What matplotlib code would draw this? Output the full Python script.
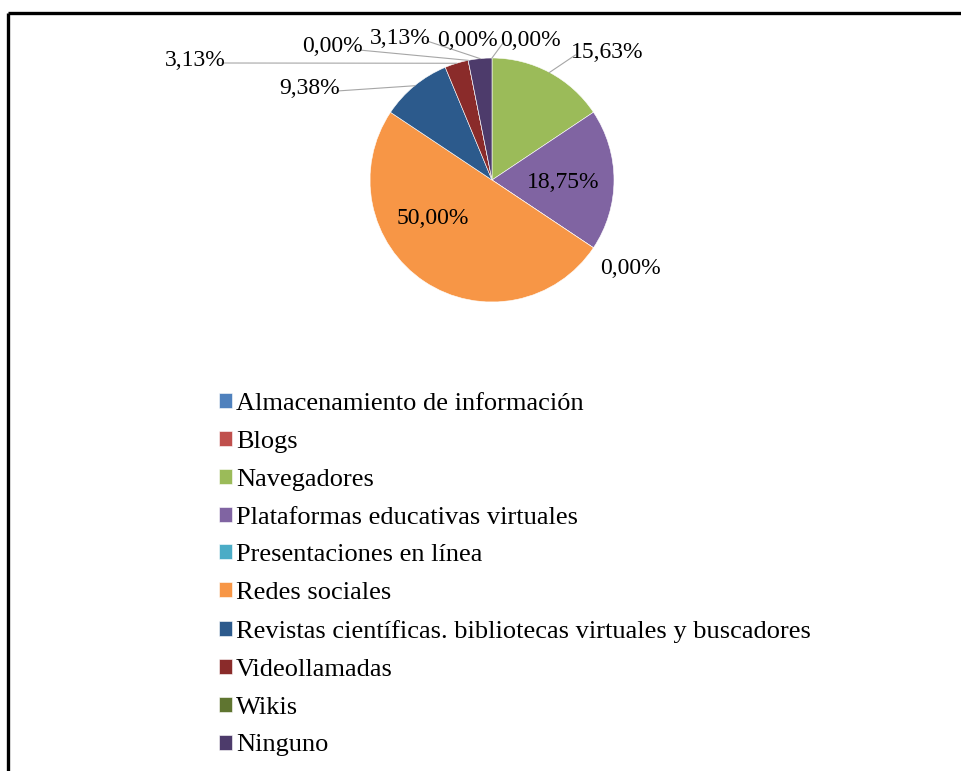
import numpy as np
import matplotlib.pyplot as plt

plt.rcParams['font.family'] = ['Liberation Serif', 'DejaVu Serif']

# data
categories = ['Almacenamiento de información', 'Blogs', 'Navegadores',
              'Plataformas educativas virtuales', 'Presentaciones en línea',
              'Redes sociales',
              'Revistas científicas. bibliotecas virtuales y buscadores',
              'Videollamadas', 'Wikis', 'Ninguno']
percent = [0.00, 0.00, 15.63, 18.75, 0.00, 50.00, 9.38, 3.13, 0.00, 3.13]
colors = ['#4F81BD', '#C0504D', '#9BBB59', '#8064A2', '#4BACC6',
          '#F79646', '#2C5A8C', '#8A2B2A', '#5F7530', '#4D3B6B']

# layout (pixel coords, y from top)
W, H = 961, 771
cx, cy, R = 492, 180, 122
# label centres and whether a leader line is drawn
label_xy = [(467, 40), (530, 40), (607, 52), (563, 183), (630, 268),
            (433, 218), (310, 88), (195, 60), (332, 47), (400, 38)]
leader = [False, True, True, False, False, False, True, True, True, True]

fig = plt.figure(figsize=(W / 100, H / 100), dpi=100)
ax = fig.add_axes([0, 0, 1, 1])

wedges, _ = ax.pie(percent, colors=colors, startangle=90, counterclock=False,
                   center=(cx, H - cy), radius=R, frame=False,
                   wedgeprops=dict(edgecolor='white', linewidth=0.4))
ax.set_xlim(0, W)
ax.set_ylim(0, H)
ax.set_aspect('equal')
ax.axis('off')

# labels
total = sum(percent)
cum = np.cumsum([0] + percent[:-1])
for i, p in enumerate(percent):
    mid = (cum[i] + p / 2) / total * 2 * np.pi
    px = cx + R * np.sin(mid)
    py = cy - R * np.cos(mid)
    lx, ly = label_xy[i]
    txt = f'{p:.2f}%'.replace('.', ',')
    ax.text(lx, H - ly, txt, ha='center', va='center', fontsize=17,
            color='black')
    if leader[i]:
        hw = 4.6 * len(txt) + 4
        if lx + hw < px:
            sx, sy = lx + hw, ly + 3
        elif lx - hw > px:
            sx, sy = lx - hw, ly + 3
        else:
            sx, sy = lx + (px - lx) * 0.3, ly + 8
        ax.plot([sx, px], [H - sy, H - py], color='#A6A6A6', lw=0.8)

# legend
ax.legend(wedges, categories, loc='upper left', frameon=False,
          bbox_to_anchor=(219 / W, 1 - 393 / H), fontsize=19,
          handlelength=0.5, handleheight=0.5, handletextpad=0.15,
          labelspacing=0.6, borderaxespad=0, borderpad=0)

# cell border (top and left)
ax.plot([8, W], [H - 13, H - 13], color='black', lw=2.4, solid_capstyle='butt')
ax.plot([8, 8], [H - 13, 0], color='black', lw=2.4, solid_capstyle='butt')

fig.savefig('out.png', dpi=100)
